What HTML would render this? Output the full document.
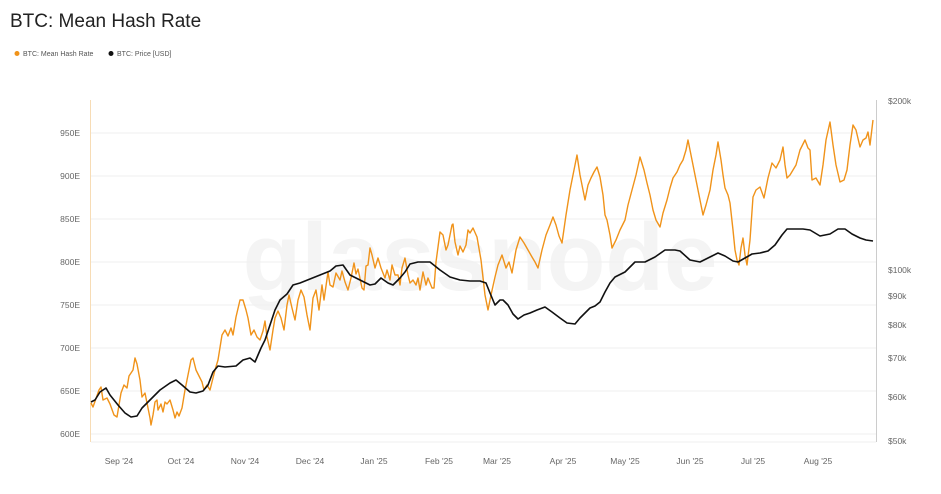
<!DOCTYPE html>
<html><head><meta charset="utf-8"><style>
body{margin:0;background:#fff;width:941px;height:489px;overflow:hidden;font-family:"Liberation Sans",sans-serif}
</style></head><body>
<svg width="941" height="489" xmlns="http://www.w3.org/2000/svg" font-family="Liberation Sans, sans-serif">
<text x="10" y="27" font-size="19" fill="#222">BTC: Mean Hash Rate</text>
<circle cx="17" cy="53.5" r="2.5" fill="#f0931a"/><text x="23" y="56" font-size="7" fill="#555">BTC: Mean Hash Rate</text>
<circle cx="111" cy="53.5" r="2.5" fill="#111"/><text x="117" y="56" font-size="7" fill="#555">BTC: Price [USD]</text>
<text x="480" y="290" font-size="96" font-weight="bold" fill="#f4f4f4" text-anchor="middle">glassnode</text>
<g stroke="#efefef" stroke-width="1">
<line x1="91" x2="876" y1="133" y2="133"/><line x1="91" x2="876" y1="176" y2="176"/><line x1="91" x2="876" y1="219" y2="219"/><line x1="91" x2="876" y1="262" y2="262"/><line x1="91" x2="876" y1="305" y2="305"/><line x1="91" x2="876" y1="348" y2="348"/><line x1="91" x2="876" y1="391" y2="391"/><line x1="91" x2="876" y1="434" y2="434"/><line x1="91" x2="876" y1="442" y2="442"/>
</g>
<line x1="90.5" y1="100" x2="90.5" y2="442" stroke="#f7dcb5"/>
<line x1="876.5" y1="100" x2="876.5" y2="442" stroke="#ccc"/>
<g font-size="8.5" fill="#666" text-anchor="end">
<text x="80" y="136">950E</text><text x="80" y="179">900E</text><text x="80" y="222">850E</text><text x="80" y="265">800E</text><text x="80" y="308">750E</text><text x="80" y="351">700E</text><text x="80" y="394">650E</text><text x="80" y="437">600E</text>
</g>
<g font-size="8.5" fill="#666">
<text x="888" y="104">$200k</text><text x="888" y="273">$100k</text><text x="888" y="299">$90k</text><text x="888" y="328">$80k</text><text x="888" y="361">$70k</text><text x="888" y="400">$60k</text><text x="888" y="444">$50k</text>
</g>
<g font-size="8.5" fill="#666" text-anchor="middle">
<text x="119" y="464">Sep '24</text><text x="181" y="464">Oct '24</text><text x="245" y="464">Nov '24</text><text x="310" y="464">Dec '24</text><text x="374" y="464">Jan '25</text><text x="439" y="464">Feb '25</text><text x="497" y="464">Mar '25</text><text x="563" y="464">Apr '25</text><text x="625" y="464">May '25</text><text x="690" y="464">Jun '25</text><text x="753" y="464">Jul '25</text><text x="818" y="464">Aug '25</text>
</g>
<polyline fill="none" stroke="#f0931a" stroke-width="1.4" stroke-linejoin="round" points="91,403 93,407 99,390 101,387 103,400 107,398 110,404 114,415 117,417 121,393 124,385 127,388 129,376 133,370 135,358 137,364 140,380 142,397 145,393 148,408 150,418 151,425 153,415 155,402 157,400 158,410 161,404 163,412 165,402 167,404 170,400 173,410 175,418 177,412 179,416 182,408 185,390 188,375 191,360 193,358 196,370 199,376 202,382 204,390 207,385 210,390 212,382 215,370 218,360 222,335 225,330 228,336 231,328 233,335 236,317 240,300 243,300 246,310 248,318 251,335 254,330 257,337 260,340 263,331 265,321 267,337 270,350 273,330 275,318 278,311 281,318 284,330 287,305 289,295 292,308 295,320 298,300 301,290 304,297 307,315 310,330 313,298 316,290 319,310 322,285 324,300 328,272 330,285 333,287 336,273 340,280 342,271 345,282 348,290 351,278 354,263 356,274 358,269 362,288 364,290 366,266 368,265 370,248 372,255 375,268 378,258 381,268 385,278 387,270 390,280 392,265 395,275 398,275 400,285 402,268 405,258 408,275 410,283 413,280 416,285 418,278 420,290 423,272 426,285 428,278 432,288 434,288 436,262 440,232 443,235 446,250 448,245 452,225 453,224 455,242 458,255 460,246 463,252 466,245 468,230 470,233 473,228 477,237 481,260 485,295 488,310 491,295 495,277 498,265 502,255 506,268 509,262 512,273 516,250 520,237 524,243 528,250 532,257 535,262 538,268 542,250 546,235 550,225 553,217 556,225 559,236 562,243 566,215 570,190 573,175 577,155 580,175 583,190 585,200 588,185 591,178 594,172 597,167 600,177 603,195 605,215 607,220 610,235 612,248 616,240 620,230 625,220 628,205 632,190 636,175 640,157 644,170 647,183 650,195 653,210 656,220 660,227 663,213 667,200 670,188 673,178 677,172 680,165 683,160 686,150 688,140 691,155 694,170 697,185 700,200 703,215 706,205 710,190 713,170 716,155 718,142 721,160 723,175 725,188 728,195 730,203 733,230 735,250 737,260 739,265 741,248 743,238 745,255 747,265 750,240 753,197 756,190 760,187 764,198 768,178 772,163 776,168 780,160 783,147 785,165 787,178 790,175 793,170 796,165 800,150 805,140 808,148 810,150 812,180 816,178 820,185 823,165 826,140 830,122 833,145 836,165 840,182 844,180 847,170 850,145 853,125 856,130 860,147 863,140 866,138 868,132 870,145 873,120"/>
<polyline fill="none" stroke="#111" stroke-width="1.6" stroke-linejoin="round" points="91,402 95,400 100,392 106,388 110,395 118,405 125,413 131,417 137,416 142,408 150,400 160,390 170,383 176,380 182,385 190,392 196,393 203,391 208,385 213,372 218,366 225,367 236,366 243,360 250,358 255,362 261,348 265,340 270,325 275,310 280,300 287,294 293,285 300,283 310,279 320,275 330,271 336,266 343,265 350,275 360,280 370,285 375,284 381,278 388,283 393,285 400,278 405,272 410,264 418,262 425,262 430,262 440,270 450,277 460,280 470,281 480,281 486,283 490,293 495,305 500,300 503,300 508,305 513,314 518,319 524,315 530,313 537,310 545,307 552,312 560,318 567,323 575,324 580,318 585,313 590,308 595,306 600,302 605,292 610,283 615,277 625,272 635,262 645,262 655,257 665,250 675,250 680,251 690,260 700,262 710,257 718,253 725,256 733,261 738,262 745,258 752,254 760,253 768,251 775,245 782,235 787,229 795,229 803,229 810,230 820,236 830,234 838,229 845,229 852,234 860,238 866,240 873,241"/>
</svg>
</body></html>
